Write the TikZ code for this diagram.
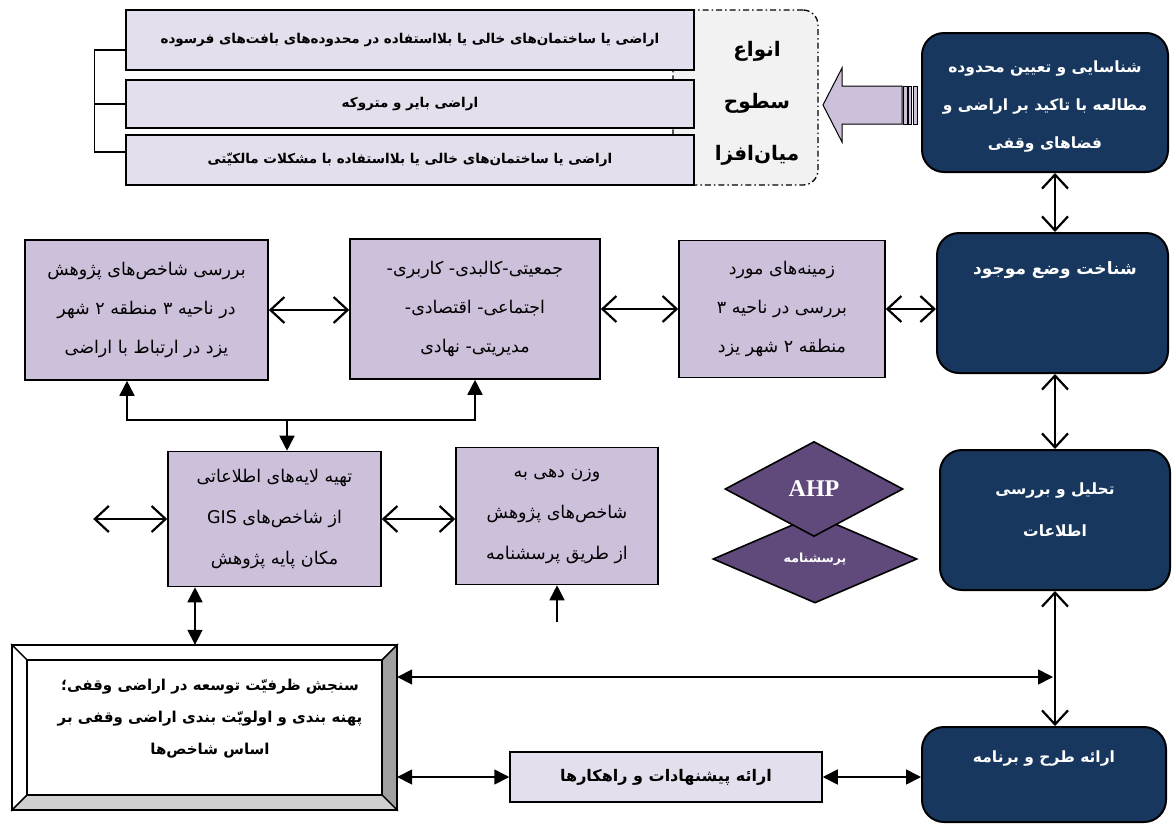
\documentclass[tikz,border=0pt]{standalone}
\usepackage{fontspec}
\setmainfont{Liberation Serif}
\newfontfamily\arabicfont[Script=Arabic]{DejaVu Sans}
\TeXXeTstate=1
\usetikzlibrary{arrows.meta,shapes.geometric}
\definecolor{lav}{HTML}{CCC0DA}
\definecolor{lightlav}{HTML}{E4DFEC}
\definecolor{navy}{HTML}{17375E}
\definecolor{dpurple}{HTML}{604A7B}
\definecolor{dashfill}{HTML}{F2F2F2}
\definecolor{bevdark}{HTML}{A0A0A0}
\definecolor{bevlight}{HTML}{D0D0D0}
\newcommand\pr[1]{\beginR#1\endR}
\begin{document}
\begin{tikzpicture}[x=1pt,y=-1pt,
  topbox/.style={draw, line width=1.5pt, fill=lightlav, inner sep=0pt, minimum width=568,
    font={\arabicfont\bfseries\fontsize{13.5}{16}\selectfont}},
  midbox/.style={draw, line width=1.6pt, fill=lav, inner sep=0pt, align=center,
    font={\arabicfont\fontsize{17.5}{39}\selectfont}},
  navybox/.style={draw=black, line width=2pt, fill=navy, rounded corners=22pt, inner sep=0pt},
  navytext/.style={text=white, align=center, inner sep=0pt,
    font={\arabicfont\bfseries\fontsize{15.5}{38}\selectfont}},
  oarr/.style={line width=2.2pt, >={Straight Barb[length=14pt,width=26pt]}, <->},
  farr/.style={line width=1.7pt, >={Triangle[length=15pt,width=15pt]}},
  diam/.style={diamond, draw, line width=1.6pt, fill=dpurple, inner sep=0pt, text=white}
]
\useasboundingbox (0,0) rectangle (1173,825);

% ---------- top group ----------
\node[draw, dash pattern=on 6pt off 3pt on 1.5pt off 3pt, line width=1.3pt, fill=dashfill,
  rounded corners=15pt, minimum width=145, minimum height=175, inner sep=0pt] (grp) at (745.5,97.5) {};
\node[topbox, minimum height=60] (b1) at (410,40)
  {\pr{اراضی یا ساختمان‌های خالی یا بلااستفاده در  محدوده‌های بافت‌های فرسوده}};
\node[topbox, minimum height=48] (b2) at (410,104)
  {\pr{اراضی بایر و متروکه}};
\node[topbox, minimum height=50] (b3) at (410,160)
  {\pr{اراضی یا ساختمان‌های خالی یا بلااستفاده با مشکلات مالکیّتی}};
\node[align=center, inner sep=0pt, font={\arabicfont\bfseries\fontsize{20}{52}\selectfont}] (grpt) at (757,103)
  {\pr{انواع}\\\pr{سطوح}\\\pr{میان‌افزا}};
\draw[line width=1.3pt] ([yshift=-10pt]b1.west) -- ++(-31,0) |- ([yshift=8pt]b3.west);
\draw[line width=1.3pt] (b2.west) -- ++(-31,0);

% block arrow
\draw[line width=1pt, fill=lav] (823,105) -- (842,68) -- (842,86) -- (902,86) -- (902,124)
  -- (842,124) -- (842,142) -- cycle;
\draw[line width=0.8pt, fill=lav] (903,86) rectangle (907,124);
\draw[line width=0.8pt, fill=lav] (908.5,86) rectangle (911.5,124);
\draw[line width=0.8pt, fill=lav] (913,86) rectangle (917,124);

% ---------- navy column ----------
\node[navybox, minimum width=246, minimum height=139] (A) at (1045,102.5) {};
\node[navytext] (At) at (1045,107) {\pr{شناسایی و تعیین محدوده}\\\pr{مطالعه با تاکید بر اراضی و}\\\pr{فضاهای وقفی}};
\node[navybox, minimum width=231, minimum height=140] (B) at (1052.5,303) {};
\node[navytext, font={\arabicfont\bfseries\fontsize{17}{20}\selectfont}] (Bt) at (1055,270) {\pr{شناخت وضع موجود}};
\node[navybox, minimum width=230, minimum height=140] (C) at (1055,520) {};
\node[navytext, font={\arabicfont\bfseries\fontsize{15.5}{42}\selectfont}] (Ct) at (1055,510) {\pr{تحلیل و بررسی}\\\pr{اطلاعات}};
\node[navybox, minimum width=244, minimum height=95] (D) at (1044,774.5) {};
\node[navytext] (Dt) at (1044,758) {\pr{ارائه طرح و برنامه}};

\coordinate (vx) at (1055,0);
\draw[oarr] (vx |- A.south) -- (vx |- B.north);
\draw[oarr] (vx |- B.south) -- (vx |- C.north);
\draw[oarr] (vx |- C.south) -- (vx |- D.north);

% ---------- middle row ----------
\node[midbox, minimum width=243, minimum height=140] (bl) at (146.5,310)
  {\pr{بررسی شاخص‌های پژوهش}\\\pr{در ناحیه ۳ منطقه ۲ شهر}\\\pr{یزد در ارتباط با اراضی}};
\node[midbox, minimum width=250, minimum height=140] (bm) at (475,309)
  {\pr{جمعیتی-کالبدی- کاربری-}\\\pr{اجتماعی- اقتصادی-}\\\pr{مدیریتی- نهادی}};
\node[midbox, minimum width=206, minimum height=137] (bz) at (782,309)
  {\pr{زمینه‌های مورد}\\\pr{بررسی در ناحیه ۳}\\\pr{منطقه ۲ شهر یزد}};
\draw[oarr] (bl.east) -- (bl.east -| bm.west);
\draw[oarr] (bm.east) -- (bm.east -| bz.west);
\draw[oarr] (bz.east) -- (bz.east -| B.west);

% ---------- GIS / weight ----------
\node[midbox, minimum width=213, minimum height=135, font={\arabicfont\fontsize{17.5}{41}\selectfont}] (gis) at (274.5,519)
  {\pr{تهیه لایه‌های اطلاعاتی}\\\pr{از شاخص‌های  \beginL GIS\endL}\\\pr{مکان پایه پژوهش}};
\node[midbox, minimum width=202, minimum height=137, font={\arabicfont\fontsize{17.5}{41}\selectfont}] (w) at (557,516)
  {\pr{وزن دهی به}\\\pr{شاخص‌های پژوهش}\\\pr{از طریق پرسشنامه}};
\coordinate (jl) at (127,420);
\coordinate (jr) at (475,420);
\coordinate (jm) at (287,420);
\draw[farr,<->] (jl |- bl.south) -- (jl) -- (jr) -- (jr |- bm.south);
\draw[farr,->] (jm) -- (jm |- gis.north);
\draw[oarr] (gis.west) -- ++(-74,0);
\draw[oarr] (gis.east) -- (gis.east -| w.west);
\coordinate (wb) at (557,622);
\draw[farr,->] (wb) -- (wb |- w.south);

% ---------- diamonds ----------
\node[diam, minimum width=204, minimum height=88, font={\arabicfont\bfseries\fontsize{12.5}{15}\selectfont}] (q) at (815,559) {\pr{پرسشنامه}};
\node[diam, minimum width=178, minimum height=95, font={\bfseries\fontsize{24}{26}\selectfont}] (ahp) at (814,489) {AHP};

% ---------- sanjesh (bevel box) ----------
\node[inner sep=0pt, minimum width=385, minimum height=165] (sj) at (204.5,727.5) {};
\begin{scope}[line width=1.4pt, line join=miter]
\draw[fill=white] (12,645) -- (397,645) -- (382,660) -- (27,660) -- cycle;
\draw[fill=white] (12,645) -- (27,660) -- (27,795) -- (12,810) -- cycle;
\draw[fill=bevdark] (397,645) -- (397,810) -- (382,795) -- (382,660) -- cycle;
\draw[fill=bevlight] (12,810) -- (397,810) -- (382,795) -- (27,795) -- cycle;
\draw[fill=white] (27,660) rectangle (382,795);
\draw[line width=2pt] (12,645) rectangle (397,810);
\end{scope}
\node[align=center, inner sep=0pt, font={\arabicfont\bfseries\fontsize{15}{32}\selectfont}] (sjt) at (210,719)
  {\pr{سنجش ظرفیّت توسعه در اراضی وقفی؛}\\\pr{پهنه بندی و اولویّت بندی اراضی وقفی بر}\\\pr{اساس شاخص‌ها}};
\coordinate (gs) at (195,600);
\draw[farr,<->] (gs |- gis.south) -- (gs |- sj.north);

% ---------- suggestions ----------
\node[draw, line width=1.5pt, fill=lightlav, minimum width=312, minimum height=50, inner sep=0pt,
  font={\arabicfont\bfseries\fontsize{16}{18}\selectfont}] (sg) at (666,777) {\pr{ارائه پیشنهادات و راهکارها}};
\coordinate (hr) at (1053,677);
\draw[farr,<->] (hr -| sj.east) -- (hr);
\draw[farr,<->] (sg.west -| sj.east) -- (sg.west);
\draw[farr,<->] (sg.east) -- (sg.east -| D.west);
\end{tikzpicture}
\end{document}
